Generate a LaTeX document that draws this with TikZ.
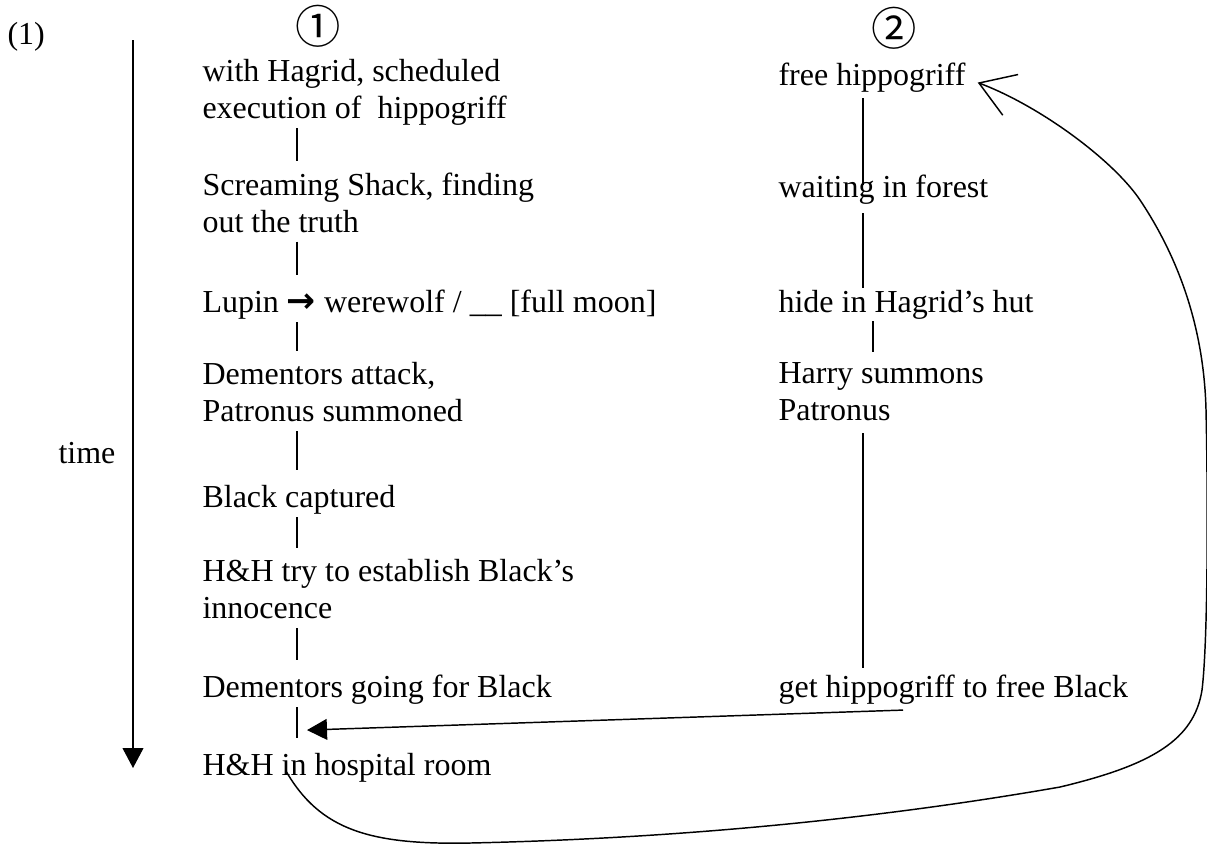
\documentclass[tikz,border=0pt]{standalone}
\usepackage{fontspec}
\setmainfont{Liberation Serif}
\newfontfamily\circfont{Noto Sans CJK JP}
\newfontfamily\arrowfont{DejaVu Sans}
\usetikzlibrary{arrows.meta,calc}

\begin{document}
\begin{tikzpicture}[x=0.375pt, y=0.375pt,
  every node/.style={font=\fontsize{12}{13.8}\selectfont, inner sep=0pt},
  event/.style={anchor=north west, align=left, execute at begin node=\strut, execute at end node=\strut},
  digit/.style={font=\circfont\fontsize{17}{18}\selectfont},
  bar/.style={line width=0.4pt},
  link/.style={line width=0.55pt},
  flow/.style={line width=0.6pt, -{Triangle[length=7.5pt, width=7.8pt]}}]
  \useasboundingbox (0,0) rectangle (1207,-844);

  % Headings
  \node[anchor=base west] (num) at (7,-44) {(1)};
  \node[digit] (one) at (318,-26) {①};
  \node[digit] (two) at (894,-28) {②};

  % Time axis
  \coordinate (t0) at (133,-40);
  \coordinate (t1) at (133,-768);
  \draw[flow] (t0) -- (t1);
  \node[anchor=base west] (time) at (58,-463) {time};

  % First pass
  \node[event] (hag) at (202,-59.2) {with Hagrid, scheduled\\execution of~ hippogriff};
  \node[event] (shack) at (202,-172.2) {Screaming Shack, finding\\out the truth};
  \node[event] (lupin) at (202,-286.2) {Lupin {\arrowfont\bfseries\fontsize{13}{13.8}\selectfont →} werewolf / \_\_ [full moon]};
  \node[event] (dattack) at (202,-362.2) {Dementors attack,\\Patronus summoned};
  \node[event] (capt) at (202,-481.2) {Black captured};
  \node[event] (innoc) at (202,-559.2) {H\&H try to establish Black’s\\innocence};
  \node[event] (dgo) at (202,-671.2) {Dementors going for Black};
  \node[event] (hosp) at (202,-749.2) {H\&H in hospital room};

  \foreach \a/\b in {hag/shack, shack/lupin, lupin/dattack, dattack/capt, capt/innoc, innoc/dgo, dgo/hosp}
    \draw[bar] ($(\a.south west)+(95,2)$) -- ($(\b.north west)+(95,11)$);

  % Second pass
  \node[event] (free) at (778,-59.2) {free hippogriff};
  \node[event] (forest) at (778,-171.2) {waiting in forest};
  \node[event] (hut) at (778,-286.2) {hide in Hagrid’s hut};
  \node[event] (harry) at (778,-362.2) {Harry summons\\Patronus};
  \node[event] (get) at (778,-671.2) {get hippogriff to free Black};

  \draw[link] ($(free.south west)+(85,-1)$) -- ($(forest.north west)+(85,-14)$);
  \draw[link] ($(forest.south west)+(85,-4)$) -- ($(hut.north west)+(85,-2)$);
  \draw[bar] ($(hut.south west)+(95,3)$) -- ($(harry.north west)+(95,10)$);
  \draw[link] ($(harry.south west)+(85,-1)$) -- ($(get.north west)+(85,3)$);

  % Jumps back
  \coordinate (gap) at ($(dgo.south west)+(105,-21)$);
  \draw[flow, line width=0.55pt] ($(get.south west)+(125,-1)$) -- (gap);
  \draw[line width=0.55pt, -{Straight Barb[length=12.6pt, width=16.3pt]}, shorten >=4.7pt]
    ($(hosp.south west)+(84,16)$) .. controls (320,-830) and (370,-845) .. (470,-843)
    .. controls (700,-838) and (900,-815) .. (1060,-787)
    .. controls (1152,-765) and (1194,-740) .. (1202,-690)
    .. controls (1208,-640) and (1208,-500) .. (1206,-410)
    .. controls (1204,-330) and (1180,-260) .. (1140,-200)
    .. controls (1113,-160) and (1040,-106) .. (free.east);
\end{tikzpicture}
\end{document}
